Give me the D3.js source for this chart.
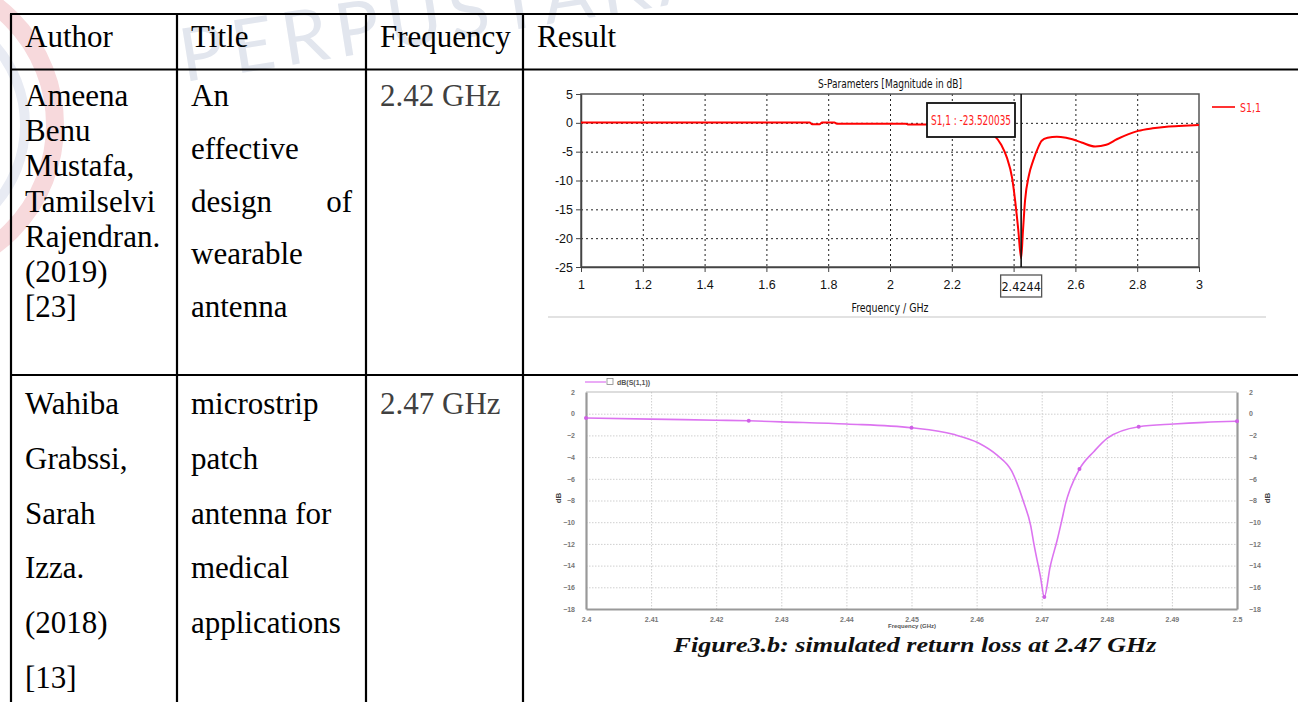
<!DOCTYPE html>
<html>
<head>
<meta charset="utf-8">
<script src="https://cdn.jsdelivr.net/npm/d3@7"></script>
<style>
  body { margin: 0; background: #fff; }
  svg { display: block; }
  .cell { font-family: "Liberation Serif", "Times New Roman", serif; font-size: 31px; fill: #000; }
  .cst { font-family: "Liberation Sans Narrow", "DejaVu Sans Condensed", "Roboto Condensed", sans-serif; font-stretch: condensed; }
  .ads { font-family: "Liberation Sans", Arial, sans-serif; font-weight: bold; }
</style>
</head>
<body>
<svg id="page" width="1298" height="702"></svg>
<script>
// ---- table contents ----
const headers = ["Author", "Title", "Frequency", "Result"];
const authorRow1 = ["Ameena", "Benu", "Mustafa,", "Tamilselvi", "Rajendran.", "(2019)", "[23]"];
const titleRow1 = ["An", "effective", "design of", "wearable", "antenna"];
const freqRow1 = "2.42 GHz";
const authorRow2 = ["Wahiba", "Grabssi,", "Sarah", "Izza.", "(2018)", "[13]"];
const titleRow2 = ["microstrip", "patch", "antenna for", "medical", "applications"];
const freqRow2 = "2.47 GHz";

// ---- chart A: CST S-parameters (GHz, dB) ----
const freqA = [1, 1.2, 1.4, 1.6, 1.74, 1.748, 1.772, 1.78, 1.82, 1.828, 2.0, 2.05, 2.06, 2.12, 2.2, 2.25, 2.3, 2.333,
  2.36, 2.378, 2.395, 2.405, 2.415, 2.4244, 2.43, 2.437, 2.45, 2.463, 2.48, 2.491, 2.51, 2.54, 2.57, 2.59,
  2.62, 2.664, 2.7, 2.734, 2.77, 2.803, 2.85, 2.895, 2.95, 3.0];
const s11A = [0.05, 0.05, 0.05, 0.05, 0.05, -0.25, -0.25, 0.05, 0.05, -0.15, -0.15, -0.15, -0.3, -0.3, -0.4, -0.6, -1.1, -2,
  -3.8, -6, -9.5, -13.5, -18.5, -23.5, -19, -13.5, -9, -6.6, -4.2, -3.1, -2.6, -2.4, -2.6, -2.85,
  -3.4, -4.1, -3.8, -2.85, -2.0, -1.4, -0.95, -0.66, -0.5, -0.38];
const xTicksA = [1, 1.2, 1.4, 1.6, 1.8, 2, 2.2, 2.4, 2.6, 2.8, 3];
const yTicksA = [5, 0, -5, -10, -15, -20, -25];
const markerFreqA = 2.4244;
const markerTextA = "S1,1 : -23.520035";

// ---- chart B: ADS return loss (GHz, dB) ----
const freqB = [2.4, 2.41, 2.42, 2.425, 2.43, 2.44, 2.45, 2.4564, 2.4603, 2.4631, 2.4654, 2.4672, 2.4683, 2.4688,
  2.4698, 2.4704, 2.4713, 2.4724, 2.4731, 2.4737, 2.4744, 2.4758, 2.478, 2.4801, 2.4849, 2.4903, 2.495, 2.5];
const s11B = [-0.4, -0.5, -0.6, -0.65, -0.75, -0.95, -1.3, -1.9, -2.7, -3.8, -5.3, -8.1, -10.3, -12,
  -15, -16.9, -14.1, -11.6, -9.8, -8.2, -6.9, -5.1, -3.5, -2.25, -1.2, -0.95, -0.8, -0.7];
const dotFreqB = [2.4, 2.425, 2.45, 2.4704, 2.4758, 2.4849, 2.5];
const dotS11B = [-0.4, -0.65, -1.3, -16.9, -5.1, -1.2, -0.7];
const xTicksB = [2.4, 2.41, 2.42, 2.43, 2.44, 2.45, 2.46, 2.47, 2.48, 2.49, 2.5];
const yTicksB = [2, 0, -2, -4, -6, -8, -10, -12, -14, -16, -18];
const captionB = "Figure3.b: simulated return loss at 2.47 GHz";

const svg = d3.select("#page");
svg.append("rect").attr("width", 1298).attr("height", 702).attr("fill", "#fff");

// faint library watermark
const wm = svg.append("g");
wm.append("circle").attr("cx", -95).attr("cy", 125).attr("r", 150)
  .attr("fill", "none").attr("stroke", "#f7d9dc").attr("stroke-width", 18);
wm.append("circle").attr("cx", -95).attr("cy", 125).attr("r", 120)
  .attr("fill", "none").attr("stroke", "#e8ebf3").attr("stroke-width", 10);
wm.append("text")
  .attr("transform", "translate(184,82) rotate(-9)")
  .attr("font-family", "Lato, sans-serif")
  .attr("font-size", 74)
  .attr("letter-spacing", 8)
  .attr("fill", "#e2e6ee")
  .text("PERPUSTAKAAN");

// ---- table grid ----
const colX = [11, 177, 366, 523, 1310];
const rowY = [14, 69.5, 375, 720];
const grid = svg.append("g").attr("stroke", "#000").attr("stroke-width", 2.2);
rowY.forEach(y => grid.append("line").attr("x1", colX[0] - 1).attr("x2", 1310).attr("y1", y).attr("y2", y));
colX.forEach(x => grid.append("line").attr("x1", x).attr("x2", x).attr("y1", rowY[0]).attr("y2", 720));

const pad = 14;
const cells = svg.append("g").attr("class", "cell");
headers.forEach((h, i) => cells.append("text").attr("x", colX[i] + pad).attr("y", 47).text(h));

function drawLines(lines, col, y0, step, fill) {
  lines.forEach((t, i) => {
    const y = y0 + i * step;
    const words = t.split(" ");
    if (t === "design of") {
      // justified line
      cells.append("text").attr("x", colX[col] + pad).attr("y", y).text(words[0]);
      cells.append("text").attr("x", colX[col + 1] - 14).attr("y", y).attr("text-anchor", "end").text(words[1]);
    } else {
      cells.append("text").attr("x", colX[col] + pad).attr("y", y).attr("fill", fill || "#000").text(t);
    }
  });
}
drawLines(authorRow1, 0, 106, 35.2);
drawLines(titleRow1, 1, 106, 52.8);
drawLines([freqRow1], 2, 106, 0, "#404040");
drawLines(authorRow2, 0, 414, 54.8);
drawLines(titleRow2, 1, 414, 54.8);
drawLines([freqRow2], 2, 414, 0, "#404040");

// ---- chart A ----
const xA = d3.scaleLinear().domain([1, 3]).range([581, 1199]);
const yA = d3.scaleLinear().domain([-25, 5]).range([267, 94]);
const gA = svg.append("g").attr("class", "cst");
const fmt = d => String(+d.toFixed(4));

gA.append("line").attr("x1", 548).attr("x2", 1266).attr("y1", 317).attr("y2", 317)
  .attr("stroke", "#e2e2e2").attr("stroke-width", 2);

gA.append("g").attr("transform", "translate(0,94)")
  .call(d3.axisBottom(xA).tickValues(xTicksA.slice(1, -1)).tickSize(173).tickFormat(""))
  .call(g => g.select(".domain").remove())
  .selectAll("line").attr("stroke", "#222").attr("stroke-dasharray", "2,3");
gA.append("g").attr("transform", "translate(581,0)")
  .call(d3.axisRight(yA).tickValues(yTicksA.slice(1, -1)).tickSize(618).tickFormat(""))
  .call(g => g.select(".domain").remove())
  .selectAll("line").attr("stroke", "#222").attr("stroke-dasharray", "2,3");

gA.append("rect").attr("x", 581).attr("y", 94).attr("width", 618).attr("height", 173)
  .attr("fill", "none").attr("stroke", "#555").attr("stroke-width", 1.5);

gA.append("g").attr("transform", "translate(581,0)")
  .call(d3.axisLeft(yA).tickValues(yTicksA).tickSize(5).tickSizeOuter(0).tickPadding(3).tickFormat(fmt))
  .call(g => g.select(".domain").attr("stroke", "#444").attr("stroke-width", 1.5))
  .call(g => g.selectAll("line").attr("stroke", "#444"))
  .call(g => g.selectAll("text").attr("font-family", null).attr("font-size", 12.5).attr("fill", "#111"));
gA.append("g").attr("transform", "translate(0,267)")
  .call(d3.axisBottom(xA).tickValues(xTicksA).tickSize(5).tickSizeOuter(0).tickPadding(8)
    .tickFormat(d => Math.abs(d - 2.4) < 1e-9 ? "" : fmt(d)))
  .call(g => g.select(".domain").attr("stroke", "#444").attr("stroke-width", 1.5))
  .call(g => g.selectAll("line").attr("stroke", "#444"))
  .call(g => g.selectAll("text").attr("font-family", null).attr("font-size", 12.5).attr("fill", "#111"));

gA.append("text").attr("x", 890).attr("y", 88).attr("text-anchor", "middle")
  .attr("font-size", 12).attr("fill", "#111")
  .attr("textLength", 144).attr("lengthAdjust", "spacingAndGlyphs")
  .text("S-Parameters [Magnitude in dB]");
gA.append("text").attr("x", 890).attr("y", 312).attr("text-anchor", "middle")
  .attr("font-size", 12).attr("fill", "#111")
  .attr("textLength", 77).attr("lengthAdjust", "spacingAndGlyphs")
  .text("Frequency / GHz");

const dataA = freqA.map((f, i) => [f, s11A[i]]);
gA.append("path").datum(dataA)
  .attr("fill", "none").attr("stroke", "#ff0000").attr("stroke-width", 2)
  .attr("d", d3.line().x(d => xA(d[0])).y(d => yA(d[1])).curve(d3.curveMonotoneX));

const mx = xA(markerFreqA);
gA.append("line").attr("x1", mx).attr("x2", mx).attr("y1", 94).attr("y2", 267)
  .attr("stroke", "#111").attr("stroke-width", 1.6);
gA.append("rect").attr("x", mx - 20.5).attr("y", 275).attr("width", 41).attr("height", 22)
  .attr("fill", "#fff").attr("stroke", "#555").attr("stroke-width", 1.3);
gA.append("text").attr("x", mx).attr("y", 291).attr("text-anchor", "middle")
  .attr("font-size", 12.5).attr("fill", "#111").text(fmt(markerFreqA));

gA.append("rect").attr("x", 927).attr("y", 103).attr("width", 88).attr("height", 34)
  .attr("fill", "#fff").attr("stroke", "#111").attr("stroke-width", 1.8);
gA.append("text").attr("x", 971).attr("y", 125).attr("text-anchor", "middle")
  .attr("font-size", 14).attr("fill", "#ff2020")
  .attr("textLength", 80).attr("lengthAdjust", "spacingAndGlyphs")
  .text(markerTextA);

gA.append("line").attr("x1", 1212).attr("x2", 1235).attr("y1", 107).attr("y2", 107)
  .attr("stroke", "#ff0000").attr("stroke-width", 1.6);
gA.append("text").attr("x", 1240).attr("y", 112).attr("font-size", 13).attr("fill", "#ff2020")
  .attr("textLength", 21).attr("lengthAdjust", "spacingAndGlyphs").text("S1,1");

// ---- chart B ----
const xB = d3.scaleLinear().domain([2.4, 2.5]).range([586, 1237]);
const yB = d3.scaleLinear().domain([-18, 2]).range([609, 392]);
const gB = svg.append("g").attr("class", "ads");
const curveColor = "#dc74f0";

gB.append("g").attr("transform", "translate(0,392)")
  .call(d3.axisBottom(xB).tickValues(xTicksB.slice(1, -1)).tickSize(217).tickFormat(""))
  .call(g => g.select(".domain").remove())
  .selectAll("line").attr("stroke", "#cfcfcf").attr("stroke-dasharray", "1.5,1.5");
gB.append("g").attr("transform", "translate(586,0)")
  .call(d3.axisRight(yB).tickValues(yTicksB.slice(1, -1)).tickSize(651).tickFormat(""))
  .call(g => g.select(".domain").remove())
  .selectAll("line").attr("stroke", "#cfcfcf").attr("stroke-dasharray", "1.5,1.5");

gB.append("line").attr("x1", 586).attr("x2", 1237).attr("y1", 392).attr("y2", 392)
  .attr("stroke", "#bbb").attr("stroke-width", 1);

const axisStyle = g => {
  g.select(".domain").attr("stroke", "#999").attr("stroke-width", 2.2);
  g.selectAll(".tick line").remove();
  g.selectAll("text").attr("font-family", null).attr("font-size", 7).attr("fill", "#777");
};
gB.append("g").attr("transform", "translate(586,0)")
  .call(d3.axisLeft(yB).tickValues(yTicksB).tickSizeOuter(0).tickPadding(5).tickFormat(d3.format("d")))
  .call(axisStyle);
gB.append("g").attr("transform", "translate(1237,0)")
  .call(d3.axisRight(yB).tickValues(yTicksB).tickSizeOuter(0).tickPadding(6).tickFormat(d3.format("d")))
  .call(axisStyle);
gB.append("g").attr("transform", "translate(0,609)")
  .call(d3.axisBottom(xB).tickValues(xTicksB).tickSizeOuter(0).tickPadding(2).tickFormat(fmt))
  .call(axisStyle);

gB.append("text").attr("x", 912).attr("y", 628).attr("text-anchor", "middle")
  .attr("font-size", 6).attr("fill", "#555").text("Frequency (GHz)");
gB.append("text").attr("transform", "translate(561,498) rotate(-90)").attr("text-anchor", "middle")
  .attr("font-size", 8).attr("fill", "#444").text("dB");
gB.append("text").attr("transform", "translate(1270,498) rotate(-90)").attr("text-anchor", "middle")
  .attr("font-size", 8).attr("fill", "#444").text("dB");

const dataB = freqB.map((f, i) => [f, s11B[i]]);
gB.append("path").datum(dataB)
  .attr("fill", "none").attr("stroke", curveColor).attr("stroke-width", 1.6)
  .attr("d", d3.line().x(d => xB(d[0])).y(d => yB(d[1])).curve(d3.curveMonotoneX));
gB.selectAll(".dot").data(dotFreqB).enter().append("circle")
  .attr("cx", d => xB(d)).attr("cy", (d, i) => yB(dotS11B[i])).attr("r", 2)
  .attr("fill", "#cf5fe6");

// legend
gB.append("line").attr("x1", 585).attr("x2", 606).attr("y1", 382).attr("y2", 382)
  .attr("stroke", curveColor).attr("stroke-width", 1.2);
gB.append("rect").attr("x", 607).attr("y", 378.5).attr("width", 6).attr("height", 6)
  .attr("fill", "#fff").attr("stroke", "#888").attr("stroke-width", 0.8);
gB.append("text").attr("x", 617).attr("y", 384.5).attr("font-size", 7).attr("fill", "#555").text("dB(S(1,1))");

svg.append("text").attr("x", 915).attr("y", 652).attr("text-anchor", "middle")
  .attr("font-family", "\"Liberation Serif\", \"Times New Roman\", serif")
  .attr("font-style", "italic").attr("font-weight", "bold").attr("font-size", 20)
  .attr("textLength", 483).attr("lengthAdjust", "spacingAndGlyphs")
  .attr("fill", "#111").text(captionB);
</script>
</body>
</html>
